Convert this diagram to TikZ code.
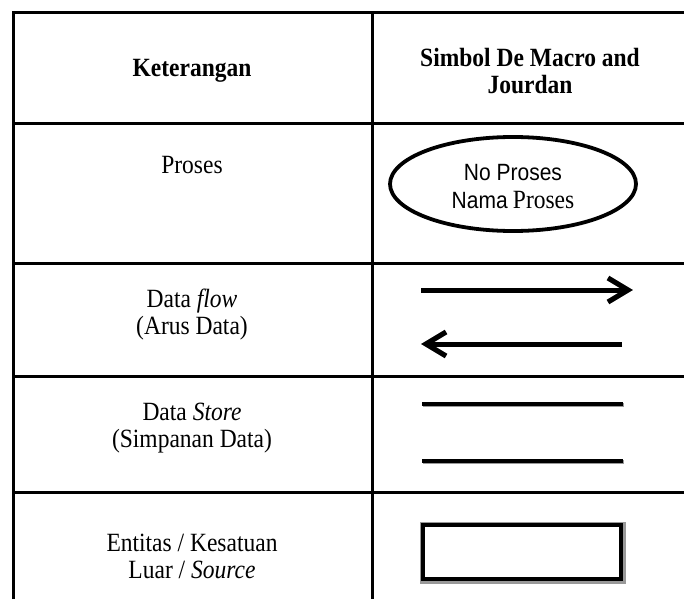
\documentclass[tikz,border=0pt]{standalone}
\usepackage{fontspec}
\usepackage{graphicx}
\setmainfont{Liberation Serif}
\newfontfamily\arialf{Liberation Sans}
\usetikzlibrary{shapes.geometric}
\newcommand{\vstretch}[1]{\scalebox{1}[1.12]{\begin{tabular}{@{}c@{}}#1\end{tabular}}}
\begin{document}
\begin{tikzpicture}[x=1pt,y=-1pt,
  tline/.style={line width=3pt},
  txt/.style={font=\fontsize{23.5}{24}\selectfont,inner sep=0pt},
  hdr/.style={font=\fontsize{23.5}{24}\selectfont\bfseries,inner sep=0pt},
  sym/.style={line width=5pt,line cap=butt},
  shd/.style={line width=5pt,draw=black!40,line cap=butt}]
\useasboundingbox (0,0) rectangle (684,599);
% table grid
\coordinate (tl) at (13,13);
\coordinate (tr) at (684,13);
\coordinate (bl) at (13,599);
\coordinate (mt) at (372,13);
\coordinate (mb) at (372,599);
\draw[tline] (bl) -- (tl) -- (tr);
\draw[tline] (mt) -- (mb);
\foreach \yy in {123,263,376,492}{
  \draw[tline] (13,\yy) -- (684,\yy);
}
% headers
\node[hdr] (h1) at (192,71) {\vstretch{Keterangan}};
\node[hdr] (h2) at (530,75) {\vstretch{Simbol De Macro and\\Jourdan}};
% left column texts
\node[txt] (t1) at (192,168) {\vstretch{Proses}};
\node[txt] (t2) at (192,316) {\vstretch{Data \textit{flow}\\(Arus Data)}};
\node[txt] (t3) at (192,429) {\vstretch{Data \textit{Store}\\(Simpanan Data)}};
\node[txt] (t4) at (192,560) {\vstretch{Entitas / Kesatuan\\Luar / \textit{Source}}};
% process ellipse
\node[ellipse,draw,line width=3.8pt,minimum width=246pt,minimum height=94pt,inner sep=0pt] (proc) at (513,184) {};
\node[inner sep=0pt,font=\fontsize{21}{25}\selectfont] (ptext) at (513,189)
  {\vstretch{{\arialf No Proses}\\{\arialf Nama} {\fontsize{23.5}{25}\selectfont Proses}}};
% data flow arrows
\coordinate (a1s) at (421,290);
\coordinate (a1e) at (628,290);
\coordinate (a2s) at (622,344);
\coordinate (a2e) at (426,344);
\begin{scope}[shift={(2,2)}]
  \draw[shd] (a1s) -- (a1e);
  \draw[shd,line join=miter] (a1e) ++(-20,-12) -- (a1e) -- ++(-20,12);
  \draw[shd] (a2s) -- (a2e);
  \draw[shd,line join=miter] (a2e) ++(20,-12) -- (a2e) -- ++(20,12);
\end{scope}
\draw[sym] (a1s) -- (a1e);
\draw[sym,line join=miter] (a1e) ++(-20,-12) -- (a1e) -- ++(-20,12);
\draw[sym] (a2s) -- (a2e);
\draw[sym,line join=miter] (a2e) ++(20,-12) -- (a2e) -- ++(20,12);
% data store lines
\coordinate (s1a) at (422,404);
\coordinate (s1b) at (623,404);
\coordinate (s2a) at (422,461);
\coordinate (s2b) at (623,461);
\draw[shd,line width=3.8pt] ([shift={(1,1)}]s1a) -- ([shift={(1,1)}]s1b);
\draw[shd,line width=3.8pt] ([shift={(1,1)}]s2a) -- ([shift={(1,1)}]s2b);
\draw[sym,line width=3.8pt] (s1a) -- (s1b);
\draw[sym,line width=3.8pt] (s2a) -- (s2b);
% external entity
\draw[draw=black!40,line width=4pt] (421.5,523.5) rectangle (623.5,581.5);
\node[draw,line width=4pt,minimum width=198pt,minimum height=54pt,inner sep=0pt] (ent) at (521.5,551.5) {};
\end{tikzpicture}
\end{document}
